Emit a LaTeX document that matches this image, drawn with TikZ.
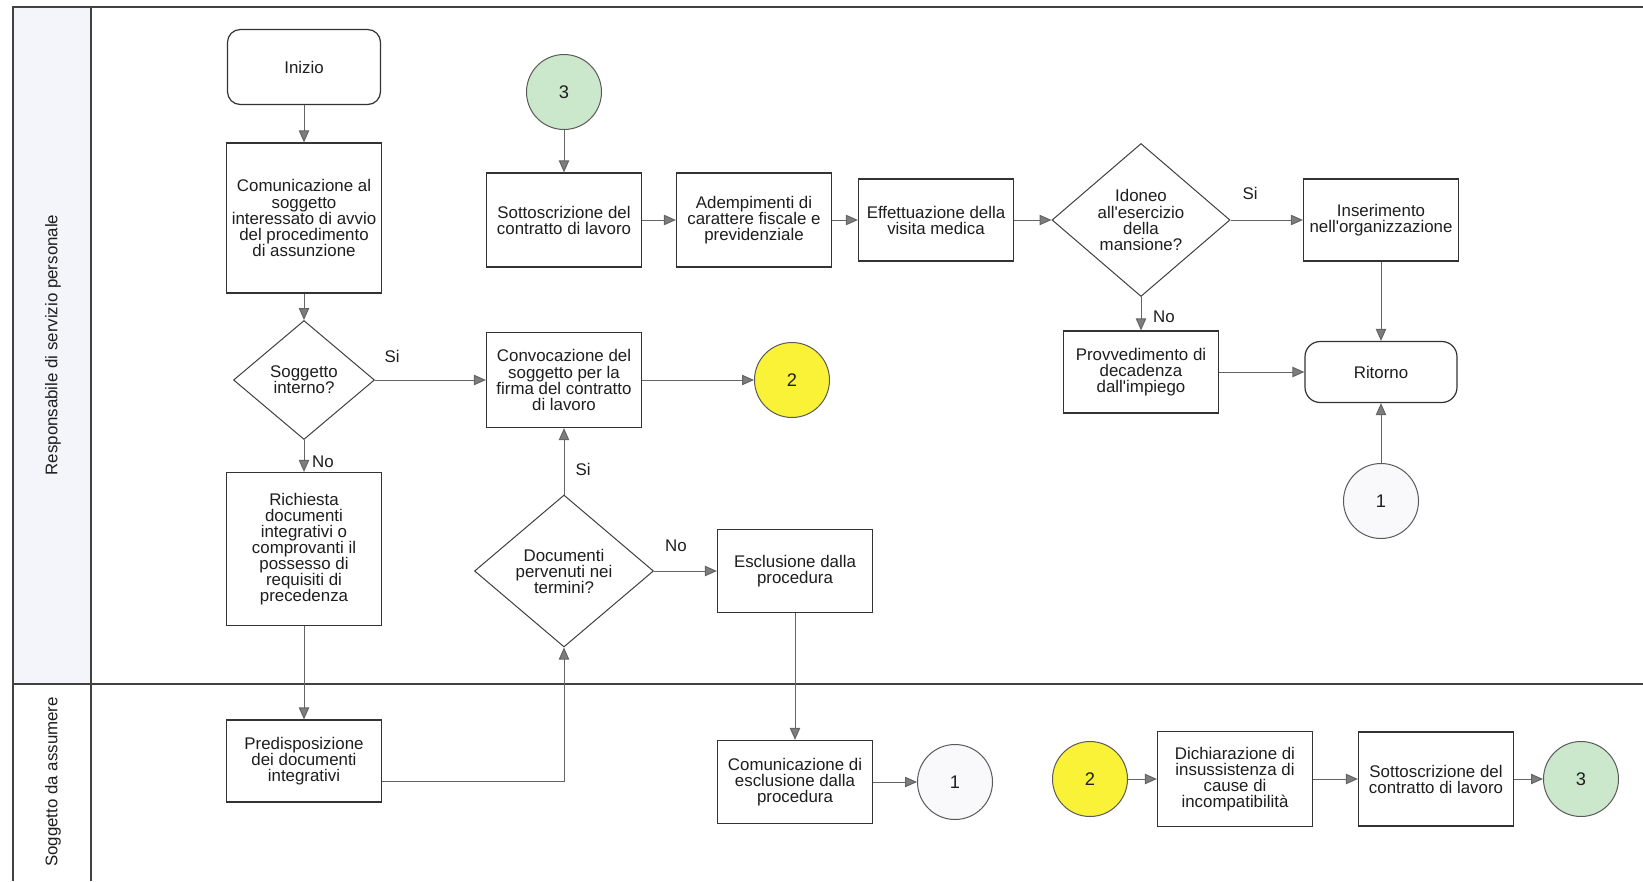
\documentclass[tikz,border=0pt]{standalone}
\usepackage{fontspec}
\setmainfont{Liberation Sans}[Ligatures=TeXOff]
\usetikzlibrary{shapes.geometric, arrows.meta}

\definecolor{txtgray}{RGB}{30,30,30}
\definecolor{linegray}{RGB}{100,100,100}
\definecolor{tipgray}{RGB}{125,125,125}
\definecolor{framegray}{RGB}{65,65,65}
\definecolor{lanefill}{RGB}{244,244,251}
\definecolor{conngreen}{RGB}{204,232,204}
\definecolor{connyellow}{RGB}{250,242,55}
\definecolor{connwhite}{RGB}{249,249,252}

\begin{document}
\begin{tikzpicture}[x=.25mm, y=-.25mm]
  \tikzstyle{mybox}=[rectangle, draw=black!80, line width=.3mm, fill=white,
    minimum width=38.75mm, align=center, inner sep=1pt, text=txtgray,
    font=\fontsize{12}{11.4}\selectfont]
  \tikzstyle{myterm}=[mybox, rounded corners=3.2mm]
  \tikzstyle{mydiam}=[diamond, draw=black!75, line width=.25mm, fill=white,
    inner sep=0pt, align=center, text=txtgray,
    font=\fontsize{12}{11.4}\selectfont]
  \tikzstyle{myconn}=[circle, draw=black!65, line width=.25mm,
    minimum size=18.75mm, inner sep=0pt, text=txtgray,
    font=\fontsize{13}{13}\selectfont]
  \tikzstyle{mylabel}=[text=txtgray, font=\fontsize{12}{12}\selectfont]
  \tikzstyle{lanelabel}=[text=txtgray, font=\fontsize{12}{12}\selectfont]
  \tikzstyle{myarrow}=[draw=linegray, line width=.25mm,
    -{Triangle[length=3mm, width=2.6mm, fill=tipgray]}]
  \tikzstyle{frame}=[draw=framegray, line width=.55mm]
  \useasboundingbox (0,0) rectangle (1643,881);

  % swimlanes
  \fill[lanefill] (13,7) rectangle (91,684);
  \draw[frame] (1643,7) -- (13,7) -- (13,881);
  \draw[frame] (91,7) -- (91,881);
  \draw[frame] (13,684) -- (1643,684);
  \node[lanelabel, rotate=90] (lane-resp) at (53,345) {Responsabile di servizio personale};
  \node[lanelabel, rotate=90] (lane-sogg) at (53,782) {Soggetto da assumere};

  % responsabile di servizio personale
  \node[myterm, minimum width=38.25mm, minimum height=18.75mm] (inizio) at (304,67) {Inizio};
  \node[mybox, minimum height=37.5mm] (comunic) at (304,218)
    {Comunicazione al\\soggetto\\interessato di avvio\\del procedimento\\di assunzione};
  \node[mydiam, minimum width=35.25mm, minimum height=29.75mm] (interno) at (304,380)
    {Soggetto\\interno?};
  \node[mybox, minimum height=38.25mm] (richiesta) at (304,549)
    {Richiesta\\documenti\\integrativi o\\comprovanti il\\possesso di\\requisiti di\\precedenza};
  \node[myconn, fill=conngreen] (c3-top) at (564,92) {3};
  \node[mybox, minimum height=23.5mm] (sottoscr) at (564,220) {Sottoscrizione del\\contratto di lavoro};
  \node[mybox, minimum height=23.5mm] (adempim) at (754,220) {Adempimenti di\\carattere fiscale e\\previdenziale};
  \node[mybox, minimum height=20.5mm] (visita) at (936,220) {Effettuazione della\\visita medica};
  \node[mydiam, minimum width=44.5mm, minimum height=38.25mm] (idoneo) at (1141,220)
    {Idoneo\\all'esercizio\\della\\mansione?};
  \node[mybox, minimum height=20.5mm] (inserim) at (1381,220) {Inserimento\\nell'organizzazione};
  \node[mybox, minimum height=20.5mm] (decad) at (1141,372) {Provvedimento di\\decadenza\\dall'impiego};
  \node[myterm, minimum width=38mm, minimum height=15.25mm, rounded corners=3.8mm] (ritorno) at (1381,372) {Ritorno};
  \node[myconn, fill=connwhite] (c1-top) at (1381,501) {1};
  \node[mybox, minimum height=23.75mm] (convoc) at (564,380)
    {Convocazione del\\soggetto per la\\firma del contratto\\di lavoro};
  \node[myconn, fill=connyellow] (c2-top) at (792,380) {2};
  \node[mydiam, minimum width=44.75mm, minimum height=38mm] (termini) at (564,571)
    {Documenti\\pervenuti nei\\termini?};
  \node[mybox, minimum height=20.75mm] (esclus) at (795,571) {Esclusione dalla\\procedura};

  % soggetto da assumere
  \node[mybox, minimum height=20.5mm] (predisp) at (304,761) {Predisposizione\\dei documenti\\integrativi};
  \node[mybox, minimum height=20.75mm] (comesc) at (795,782) {Comunicazione di\\esclusione dalla\\procedura};
  \node[myconn, fill=connwhite] (c1-bot) at (955,782) {1};
  \node[myconn, fill=connyellow] (c2-bot) at (1090,779) {2};
  \node[mybox, minimum height=23.75mm] (dichiar) at (1235,779)
    {Dichiarazione di\\insussistenza di\\cause di\\incompatibilità};
  \node[mybox, minimum height=23.5mm] (sottoscr-bot) at (1436,779) {Sottoscrizione del\\contratto di lavoro};
  \node[myconn, fill=conngreen] (c3-bot) at (1581,779) {3};

  % connectors
  \foreach \a/\b in {inizio/comunic, comunic/interno, interno/richiesta,
      richiesta/predisp, c3-top/sottoscr, idoneo/decad, inserim/ritorno,
      esclus/comesc}
    \draw[myarrow] (\a.south) -- (\b.north);
  \foreach \a/\b in {interno/convoc, convoc/c2-top, sottoscr/adempim,
      adempim/visita, visita/idoneo, idoneo/inserim, decad/ritorno,
      termini/esclus, comesc/c1-bot, c2-bot/dichiar, dichiar/sottoscr-bot,
      sottoscr-bot/c3-bot}
    \draw[myarrow] (\a.east) -- (\b.west);
  \draw[myarrow] (termini.north) -- (convoc.south);
  \draw[myarrow] (c1-top.north) -- (ritorno.south);
  \draw[myarrow] ([yshift=-5mm]predisp.east) -| (termini.south);

  \node[mylabel] (si-interno) at (392,356) {Si};
  \node[mylabel] (no-interno) at (323,462) {No};
  \node[mylabel] (si-termini) at (583,469) {Si};
  \node[mylabel] (no-termini) at (676,546) {No};
  \node[mylabel] (si-idoneo) at (1250,193) {Si};
  \node[mylabel] (no-idoneo) at (1164,317) {No};
\end{tikzpicture}
\end{document}
